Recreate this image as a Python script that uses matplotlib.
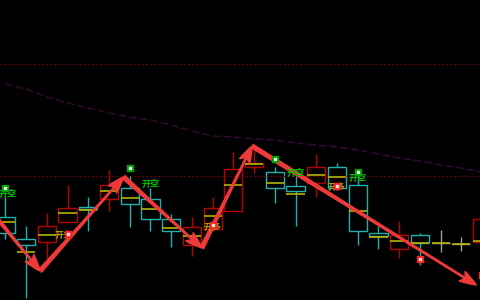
import numpy as np
import matplotlib.pyplot as plt

plt.rcParams['font.family'] = ['Noto Sans CJK SC', 'DejaVu Sans']

# candle data (price units, higher = up)
idx = np.arange(24)
highs = [103, 74, 87, 115, 103, 130, 124, 112, 86, 83, 103, 148, 152, 133, 124, 146, 137, 130, 74, 79, 67, 70, 63, 81]
lows = [61, 2, 42, 78, 69, 89, 73, 69, 53, 44, 69, 89, 127, 97, 74, 103, 110, 55, 51, 42, 35, 48, 49, 20]
opens = [83, 61, 58, 78, 93, 101, 112, 101, 81, 55, 71, 89, 133, 128, 114, 117, 133, 115, 67, 51, 65, 57, 56, 58]
closes = [67, 55, 74, 92, 91, 115, 96, 81, 69, 73, 92, 131, 137, 112, 109, 133, 112, 69, 64, 65, 57, 57, 56, 81]
mids = [78, 48, 65, 87, 90, 109, 102, 91, 72, 64, 84, 115, 136, 117, 106, 125, 123, 89, 63, 59, 57, 57, 56, 59]

# slow average line
avg_line = [216, 211, 203, 197, 192, 187, 183, 180, 175, 169, 164, 163, 161, 160, 157, 155, 153, 150, 146, 142, 139, 135, 132, 128]

# signal levels
levels = [236, 124]

# short signals (green) and long signals (red)
short_idx = [0, 6, 13, 17]
short_px = [112, 132, 141, 128]
short_txt_idx = [0.12, 7, 14, 17]
short_txt_px = [106, 116, 127, 122]
long_idx = [3, 10, 16, 20, 23]
long_px = [66, 75, 114, 41, 25]
long_txt_idx = [2.8, 10, 16]
long_txt_px = [65, 73, 113]

# zigzag pivots
piv_x = [-1.0, 1.67, 5.7, 9.48, 11.9, 22.72]
piv_y = [97, 29, 123, 52, 154, 15]

fig = plt.figure(figsize=(4.8, 3.0), dpi=100)
fig.patch.set_facecolor('black')
ax = fig.add_axes([0, 0, 1, 1])
ax.set_facecolor('black')
ax.set_xlim(-0.26, 22.9)
ax.set_ylim(0, 300)
ax.axis('off')

# dotted levels and the average
for lv in levels:
    ax.axhline(lv, color='#7a0000', lw=1.0, ls=(0, (1.2, 1.8)))
ax.plot(idx, avg_line, color='#300a30', lw=1.1, dashes=(5, 2))

# candles (hollow)
colors = []
for o, c in zip(opens, closes):
    if c > o:
        colors.append('#b80000')
    elif c < o:
        colors.append('#1fb0b0')
    else:
        colors.append('#a0a0a0')
tops = np.maximum(opens, closes)
bots = np.minimum(opens, closes)
w = 0.88
ax.vlines(idx, tops, highs, colors=colors, lw=1.0)
ax.vlines(idx, lows, bots, colors=colors, lw=1.0)
ax.bar(idx, tops - bots, bottom=bots, width=w, fill=False,
       edgecolor=colors, linewidth=1.0)
ax.hlines(mids, idx - w / 2, idx + w / 2, colors='#b4b400', lw=1.2)

# zigzag arrows
for i in range(len(piv_x) - 1):
    ax.annotate('', xy=(piv_x[i + 1], piv_y[i + 1]), xytext=(piv_x[i], piv_y[i]),
                arrowprops=dict(arrowstyle='fancy,head_length=1.2,head_width=0.8,tail_width=0.28',
                                color='#f03a3a', mutation_scale=10,
                                shrinkA=0, shrinkB=0))

# signal labels
for x, y in zip(short_txt_idx, short_txt_px):
    ax.text(x, y, '开空', color='#00c000', fontsize=6.5, fontweight='bold',
            ha='center', va='center')
for x, y in zip(long_txt_idx, long_txt_px):
    ax.text(x, y, '开多', color='#a8a800', fontsize=6.5, fontweight='bold',
            ha='center', va='center')

# signal markers
ax.scatter(short_idx, short_px, marker='s', s=16, color='#00a000', zorder=5)
ax.scatter(short_idx, short_px, marker='s', s=2, color='#e0ffe0', zorder=6)
ax.scatter(long_idx, long_px, marker='s', s=16, color='#ff2020', zorder=5)
ax.scatter(long_idx, long_px, marker='s', s=2, color='#ffe0e0', zorder=6)

fig.savefig('out.png', dpi=100, facecolor='black')
